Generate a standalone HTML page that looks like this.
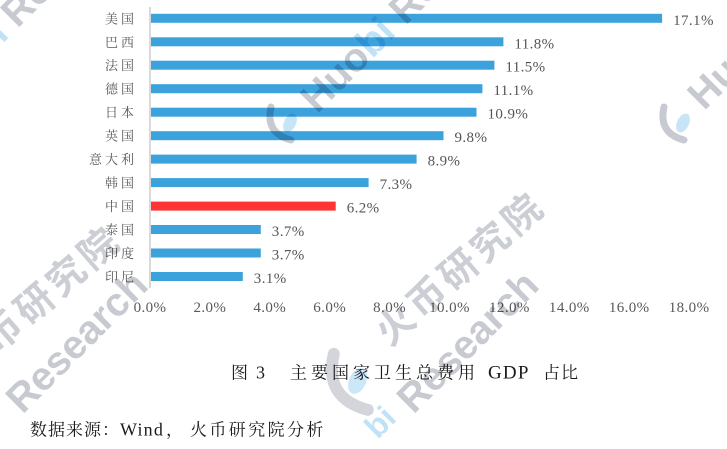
<!DOCTYPE html>
<html>
<head>
<meta charset="utf-8">
<style>
html,body{margin:0;padding:0;background:#fff;width:727px;height:449px;overflow:hidden;}
#wrap{position:relative;width:727px;height:449px;overflow:hidden;background:#fff;}
svg{position:absolute;left:0;top:0;display:block;}
</style>
</head>
<body>
<div id="wrap">
<svg width="727" height="449" viewBox="0 0 727 449" xmlns="http://www.w3.org/2000/svg">
  <rect x="149" y="7" width="2" height="281" fill="#d9d9d9"/>
  <g fill="#3ca2dc">
    <rect x="151" y="13.8" width="511.1" height="9"/>
    <rect x="151" y="37.3" width="352.4" height="9"/>
    <rect x="151" y="60.7" width="343.4" height="9"/>
    <rect x="151" y="84.2" width="331.4" height="9"/>
    <rect x="151" y="107.7" width="325.5" height="9"/>
    <rect x="151" y="131.2" width="292.5" height="9"/>
    <rect x="151" y="154.6" width="265.6" height="9"/>
    <rect x="151" y="178.1" width="217.6" height="9"/>
    <rect x="151" y="225.0" width="109.8" height="9"/>
    <rect x="151" y="248.5" width="109.8" height="9"/>
    <rect x="151" y="272.0" width="91.8" height="9"/>
  </g>
  <rect x="151" y="201.6" width="184.7" height="9" fill="#ff3434"/>
  <g font-family="'Noto Serif CJK SC','Liberation Serif',serif" font-size="13" fill="#595959" text-anchor="end" letter-spacing="3">
    <text x="137" y="23.3">美国</text>
    <text x="137" y="46.8">巴西</text>
    <text x="137" y="70.2">法国</text>
    <text x="137" y="93.7">德国</text>
    <text x="137" y="117.2">日本</text>
    <text x="137" y="140.7">英国</text>
    <text x="137" y="164.1">意大利</text>
    <text x="137" y="187.6">韩国</text>
    <text x="137" y="211.1">中国</text>
    <text x="137" y="234.5">泰国</text>
    <text x="137" y="258.0">印度</text>
    <text x="137" y="281.5">印尼</text>
  </g>
  <g font-family="'Liberation Serif',serif" font-size="15" fill="#555555" letter-spacing="0.4">
    <text x="673.1" y="24.8">17.1%</text>
    <text x="514.4" y="48.3">11.8%</text>
    <text x="505.4" y="71.7">11.5%</text>
    <text x="493.4" y="95.2">11.1%</text>
    <text x="487.5" y="118.7">10.9%</text>
    <text x="454.5" y="142.2">9.8%</text>
    <text x="427.6" y="165.6">8.9%</text>
    <text x="379.6" y="189.1">7.3%</text>
    <text x="346.7" y="212.6">6.2%</text>
    <text x="271.8" y="236.0">3.7%</text>
    <text x="271.8" y="259.5">3.7%</text>
    <text x="253.8" y="283.0">3.1%</text>
  </g>
  <g font-family="'Liberation Serif',serif" font-size="15" fill="#595959" text-anchor="middle" letter-spacing="0.4">
    <text x="150" y="312">0.0%</text>
    <text x="209.9" y="312">2.0%</text>
    <text x="269.8" y="312">4.0%</text>
    <text x="329.7" y="312">6.0%</text>
    <text x="389.6" y="312">8.0%</text>
    <text x="449.5" y="312">10.0%</text>
    <text x="509.4" y="312">12.0%</text>
    <text x="569.3" y="312">14.0%</text>
    <text x="629.2" y="312">16.0%</text>
    <text x="689.1" y="312">18.0%</text>
  </g>
  <g fill="#1a1a1a">
    <text x="231" y="378.5" font-family="'Noto Serif CJK SC',serif" font-size="17">图</text>
    <text x="256" y="378.5" font-family="'Liberation Serif',serif" font-size="18">3</text>
    <text x="290" y="378.5" font-family="'Noto Serif CJK SC',serif" font-size="17" letter-spacing="4">主要国家卫生总费用</text>
    <text x="488" y="378.5" font-family="'Liberation Serif',serif" font-size="19" letter-spacing="1.2">GDP</text>
    <text x="543" y="378.5" font-family="'Noto Serif CJK SC',serif" font-size="17" letter-spacing="1">占比</text>
  </g>
  <g fill="#1a1a1a">
    <text x="30" y="435.5" font-family="'Noto Serif CJK SC',serif" font-size="17" letter-spacing="1">数据来源：</text>
    <text x="120" y="435.5" font-family="'Liberation Serif',serif" font-size="18" letter-spacing="1.2">Wind</text>
    <text x="166" y="435.5" font-family="'Noto Serif CJK SC',serif" font-size="17">，</text>
    <text x="190" y="435.5" font-family="'Noto Serif CJK SC',serif" font-size="17" letter-spacing="2.4">火币研究院分析</text>
  </g>
</svg>

<svg width="727" height="449" viewBox="0 0 727 449" xmlns="http://www.w3.org/2000/svg" style="mix-blend-mode:multiply;overflow:hidden">
  <g transform="translate(660,103)">
    <path d="M4,4 Q-2,30 24,37" fill="none" stroke="rgba(110,115,135,0.38)" stroke-width="7" stroke-linecap="round"/>
    <ellipse cx="23" cy="20" rx="6" ry="10" transform="rotate(25 23 20)" fill="rgba(70,170,230,0.3)"/>
  </g>
  <g transform="translate(267,103)">
    <path d="M4,4 Q-2,30 24,37" fill="none" stroke="rgba(110,115,135,0.38)" stroke-width="7" stroke-linecap="round"/>
    <ellipse cx="23" cy="20" rx="6" ry="10" transform="rotate(25 23 20)" fill="rgba(70,170,230,0.3)"/>
  </g>
  <g transform="translate(327,347) scale(1.7)">
    <path d="M4,4 Q-2,30 24,37" fill="none" stroke="rgba(110,115,135,0.3)" stroke-width="7" stroke-linecap="round"/>
    <ellipse cx="18" cy="20" rx="5" ry="8" transform="rotate(25 18 20)" fill="rgba(70,170,230,0.28)"/>
  </g>

  <g font-family="'Noto Sans CJK SC',sans-serif" font-weight="bold" font-size="38" letter-spacing="4" fill="rgba(110,115,135,0.35)" text-anchor="middle" dominant-baseline="central">
    <text transform="translate(34,300) rotate(-41)">火币研究院</text>
    <text transform="translate(458,266) rotate(-41)">火币研究院</text>
  </g>
  <g font-family="'Liberation Sans',sans-serif" font-weight="bold" font-size="40" fill="rgba(110,115,135,0.38)" text-anchor="middle" dominant-baseline="central">
    <text transform="translate(77,342) rotate(-45)">Research</text>
    <text transform="translate(468,342) rotate(-45)">Research</text>
    <text transform="translate(348,65) rotate(-45)">Huo<tspan fill="rgba(70,170,230,0.34)">bi</tspan></text>
    <text transform="translate(460,-47) rotate(-45)">Research</text>
    <text transform="translate(735,62) rotate(-45)">Huo<tspan fill="rgba(70,170,230,0.34)">bi</tspan></text>
    <text transform="translate(-39,67) rotate(-45)">Huo<tspan fill="rgba(70,170,230,0.34)">bi</tspan></text>
    <text transform="translate(72,-44) rotate(-45)">Research</text>
  </g>
  <text transform="translate(380,422) rotate(-45)" font-family="'Liberation Sans',sans-serif" font-weight="bold" font-size="32" fill="rgba(70,170,230,0.34)" text-anchor="middle" dominant-baseline="central">bi</text>
</svg>
</div>
</body>
</html>
